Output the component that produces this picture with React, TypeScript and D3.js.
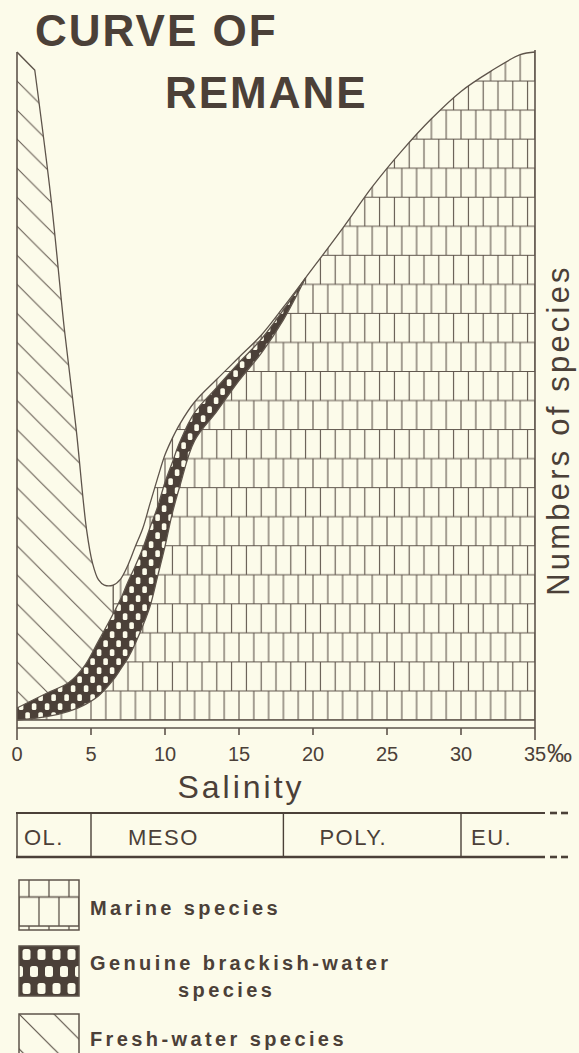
import React from 'react';
import * as d3 from 'd3';

type Pt = [number, number];

// salinity in per mille along the bottom
const salinityTicks = [0, 5, 10, 15, 20, 25, 30, 35];

// fresh-water species: outline from the top of the axis down to the dip
const freshWater: Pt[] = [[0, 100], [1.2, 97.3], [2.3, 78], [3.2, 58.5], [4.0, 43.5], [4.7, 28.5], [5.1, 23.5], [5.5, 21], [5.9, 20.2], [6.5, 20.2]];

// marine species: outline from the dip up to the top right
const marine: Pt[] = [[6.5, 20.2], [7, 21.1], [7.5, 23.2], [8, 26], [8.5, 28.7], [9, 32.5], [9.5, 36.2], [10, 39.7], [10.5, 42.2], [11, 44.3], [12, 47.6], [13.5, 51], [15, 54.3], [16.5, 57.6], [18, 61.8], [19.5, 66.2], [22, 73.6], [24, 79.8], [26, 85.2], [28, 90], [30, 94.1], [32, 97.1], [34, 99.6], [35, 100]];

// genuine brackish-water species: upper and lower edge of the band
const brackishTop: Pt[] = [[0, 1.8], [2, 4], [3.5, 5.6], [4.5, 7.9], [5.5, 11.8], [6.5, 15.9], [7, 18.1], [7.5, 20.7], [8, 23.1], [8.5, 25.7], [9, 28.9], [9.5, 31.9], [10, 35.6], [10.5, 38.6], [11, 41.6], [12, 46.0], [13.5, 49.8], [15, 53.5], [16.5, 57.0], [18, 61.4], [19.5, 66.2]];
const brackishBottom: Pt[] = [[0, 0], [2, 0.5], [3.5, 1.3], [4.5, 2.2], [5.5, 3.6], [6.5, 6], [7, 7.6], [7.5, 9.3], [8, 11.5], [8.5, 14.1], [9, 17.1], [9.5, 21.5], [10, 26], [10.5, 31], [11, 35], [12, 41.8], [13.5, 46.2], [15, 50.8], [16.5, 54.9], [18, 59.9], [19.5, 66.2]];

// salinity zones under the axis
const zoneNames = ['OL.', 'MESO', 'POLY.', 'EU.'];
const zoneBounds = [0, 5, 18, 30];

const W = 579;
const H = 1053;
const BG = '#fcfbea';
const INK = '#4b4038';
const LINE = '#5e544b';

const x = d3.scaleLinear().domain([0, 35]).range([17, 535]);
const y = d3.scaleLinear().domain([0, 100]).range([720, 52]);

const cw = x(1) - x(0);
const rh = (y(0) - y(100)) / 23;

const line = d3.line<Pt>().x(d => x(d[0])).y(d => y(d[1])).curve(d3.curveCatmullRom.alpha(0.5));
const cont = (pts: Pt[]) => (line(pts) || '').replace(/^M/, 'L');

export default function App() {
  const dip = freshWater[freshWater.length - 1];
  const bAtDip = brackishTop.find(d => d[0] === dip[0]) as Pt;
  const p0 = freshWater[0];

  // first stretch of the fresh-water outline is a straight corner
  const freshEdge = `L${x(p0[0])},${y(p0[1])}` + cont(freshWater.slice(1));
  const freshPath = `M${x(0)},${y(0)}` + freshEdge + `L${x(dip[0])},${y(0)}Z`;
  const marinePath = `M${x(0)},${y(0)}` + cont(brackishBottom.filter(d => d[0] <= dip[0])) + cont(marine) + `L${x(35)},${y(0)}Z`;
  const brackPath = (line(brackishTop) || '') + cont(brackishBottom.slice().reverse()) + 'Z';
  const outline = `M${x(p0[0])},${y(p0[1])}` + cont(freshWater.slice(1).concat(marine.slice(1)));

  const axisY = 728;
  const boxTop = 813;
  const boxBot = 857;
  const labelPad = [7, 37, 36, 10];

  const font = '"Liberation Sans", Arial, sans-serif';
  const pre = { whiteSpace: 'pre' as const };

  return (
    <svg width={W} height={H} style={{ position: 'absolute', left: 0, top: 0, background: BG }}>
      <defs>
        <pattern id="marine" patternUnits="userSpaceOnUse" x={x(0)} y={y(100)} width={2 * cw} height={2 * rh}>
          <rect width={2 * cw} height={2 * rh} fill={BG} />
          <path
            d={`M0,0H${2 * cw}M0,${rh}H${2 * cw}M0,${2 * rh}H${2 * cw}` +
              `M0,0V${rh}M${cw},0V${rh}M${2 * cw},0V${rh}` +
              `M${cw / 2},${rh}V${2 * rh}M${1.5 * cw},${rh}V${2 * rh}`}
            stroke={LINE} strokeWidth={1.1} fill="none" />
        </pattern>
        <pattern id="marineKey" patternUnits="userSpaceOnUse" x={19} y={880 + 17 - rh} width={2.7 * cw} height={2 * rh}>
          <rect width={2.7 * cw} height={2 * rh} fill={BG} />
          <path
            d={`M0,0H${2.7 * cw}M0,${rh}H${2.7 * cw}M0,${2 * rh}H${2.7 * cw}` +
              `M${cw * 0.675},0V${rh}M${cw * 2.025},0V${rh}` +
              `M0,${rh}V${2 * rh}M${1.35 * cw},${rh}V${2 * rh}M${2.7 * cw},${rh}V${2 * rh}`}
            stroke={LINE} strokeWidth={1.3} fill="none" />
        </pattern>
        <pattern id="fresh" patternUnits="userSpaceOnUse" x={x(0)} y={y(100)} width={rh} height={rh}>
          <rect width={rh} height={rh} fill={BG} />
          <path d={`M-2,-2L${rh + 2},${rh + 2}M-2,${rh - 2}L2,${rh + 2}M${rh - 2},-2L${rh + 2},2`} stroke={LINE} strokeWidth={1} fill="none" />
        </pattern>
        <pattern id="freshKey" patternUnits="userSpaceOnUse" x={19} y={1014} width={rh * 1.2} height={rh * 1.2}>
          <rect width={rh * 1.2} height={rh * 1.2} fill={BG} />
          <path d={`M-2,-2L${rh * 1.2 + 2},${rh * 1.2 + 2}M-2,${rh * 1.2 - 2}L2,${rh * 1.2 + 2}M${rh * 1.2 - 2},-2L${rh * 1.2 + 2},2`} stroke={LINE} strokeWidth={1.2} fill="none" />
        </pattern>
        <pattern id="brack" patternUnits="userSpaceOnUse" x={x(0)} y={y(0)} width={13} height={18}>
          <rect width={13} height={18} fill={INK} />
          <rect x={1.8} y={1.3} width={4.6} height={6.6} rx={1.5} fill={BG} />
          <rect x={8.3} y={10.3} width={4.6} height={6.6} rx={1.5} fill={BG} />
        </pattern>
        <pattern id="brackKey" patternUnits="userSpaceOnUse" x={19} y={946} width={15} height={34}>
          <rect width={15} height={34} fill={INK} />
          <rect x={3.5} y={3} width={8} height={11} rx={2.5} fill={BG} />
          <rect x={-4} y={20} width={8} height={11} rx={2.5} fill={BG} />
          <rect x={11} y={20} width={8} height={11} rx={2.5} fill={BG} />
        </pattern>
      </defs>

      <rect width={W} height={H} fill={BG} />

      {/* areas */}
      <path d={freshPath} fill="url(#fresh)" />
      <path d={marinePath} fill="url(#marine)" />
      <path d={brackPath} fill="url(#brack)" />

      {/* curve outlines */}
      <g fill="none" stroke={LINE} strokeWidth={1.3}>
        <path d={outline} />
        <path d={line(brackishTop) || ''} />
        <path d={line(brackishBottom) || ''} />
        <path d={`M${x(dip[0])},${y(dip[1])}L${x(bAtDip[0])},${y(bAtDip[1])}`} />
      </g>

      {/* frame and axis */}
      <g stroke={LINE} strokeWidth={1.6} fill="none">
        <line x1={x(0)} x2={x(0)} y1={y(100)} y2={axisY + 12} />
        <line x1={x(35)} x2={x(35)} y1={y(100) - 2} y2={axisY + 12} />
        <line x1={x(0)} x2={x(35)} y1={y(0)} y2={y(0)} />
        <line x1={x(0)} x2={x(35)} y1={axisY} y2={axisY} />
        {salinityTicks.slice(1, -1).map(t => (
          <line key={t} x1={x(t)} x2={x(t)} y1={axisY} y2={axisY + 7} />
        ))}
      </g>
      <g fill={INK} fontFamily={font} fontSize={20} textAnchor="middle">
        {salinityTicks.map(t => (
          <text key={t} x={x(t)} y={761}>{t}</text>
        ))}
        <text x={x(35) + 12} y={762} fontSize={25} textAnchor="start">‰</text>
      </g>

      <text x={241} y={798} fill={INK} fontFamily={font} fontSize={32} letterSpacing={3} textAnchor="middle">Salinity</text>

      <text transform="translate(569,430) rotate(-90)" fill={INK} fontFamily={font} fontSize={31} letterSpacing={3.2} textAnchor="middle">Numbers of species</text>

      {/* title */}
      <g fill={INK} fontFamily={font} fontWeight="bold" fontSize={44} letterSpacing={2}>
        <text x={35} y={46}>CURVE OF</text>
        <text x={165} y={108}>REMANE</text>
      </g>

      {/* salinity zones */}
      <g stroke={INK} fill="none">
        <line x1={x(0) - 1} x2={545} y1={boxTop} y2={boxTop} strokeWidth={2.2} />
        <line x1={x(0) - 1} x2={545} y1={boxBot} y2={boxBot} strokeWidth={2.6} />
        {[boxTop, boxBot].map(yy => (
          <g key={yy} strokeWidth={2.6}>
            <line x1={550} x2={557} y1={yy} y2={yy} />
            <line x1={561} x2={568} y1={yy} y2={yy} />
          </g>
        ))}
        {zoneBounds.map(b => (
          <line key={b} x1={x(b)} x2={x(b)} y1={boxTop} y2={boxBot} strokeWidth={1.4} />
        ))}
      </g>
      <g fill={INK} fontFamily={font} fontSize={22} letterSpacing={1.5}>
        {zoneNames.map((n, i) => (
          <text key={n} x={x(zoneBounds[i]) + labelPad[i]} y={845}>{n}</text>
        ))}
      </g>

      {/* legend */}
      <g stroke={LINE} strokeWidth={1.5}>
        <rect x={19} y={880} width={60} height={50} fill="url(#marineKey)" />
        <rect x={19} y={946} width={60} height={50} fill="url(#brackKey)" />
        <rect x={19} y={1014} width={60} height={50} fill="url(#freshKey)" />
      </g>
      <g fill={INK} fontFamily={font} fontWeight="bold" fontSize={20} letterSpacing={3.4} style={pre}>
        <text x={90} y={915}>Marine  species</text>
        <text x={90} y={970}>Genuine  brackish-water</text>
        <text x={178} y={997}>species</text>
        <text x={90} y={1046}>Fresh-water  species</text>
      </g>
    </svg>
  );
}
